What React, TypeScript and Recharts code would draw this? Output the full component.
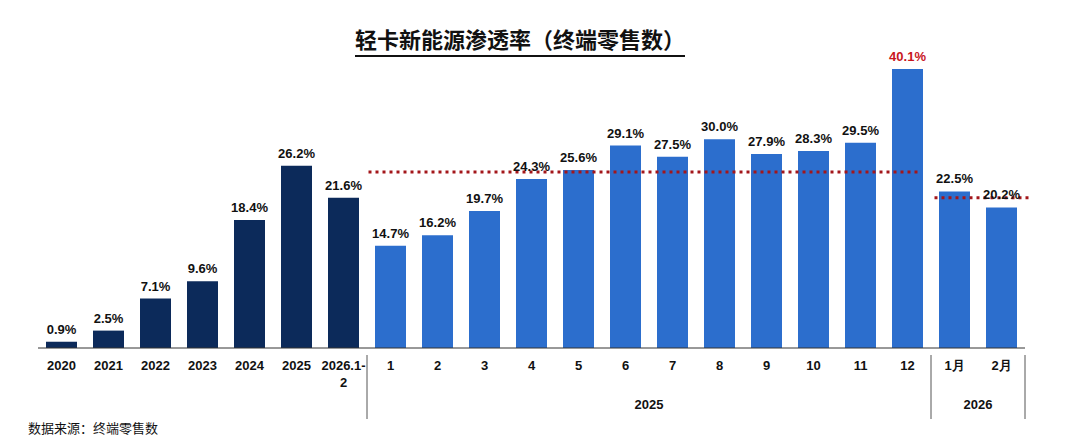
import React from "react";
import { ComposedChart, Bar, XAxis, YAxis, Cell, LabelList, ReferenceLine } from "recharts";

const categories = ["2020", "2021", "2022", "2023", "2024", "2025", "2026.1-2", "1", "2", "3", "4", "5", "6", "7", "8", "9", "10", "11", "12", "1月", "2月"];
const rates = [0.9, 2.5, 7.1, 9.6, 18.4, 26.2, 21.6, 14.7, 16.2, 19.7, 24.3, 25.6, 29.1, 27.5, 30.0, 27.9, 28.3, 29.5, 40.1, 22.5, 20.2];
const avg2025 = 25.3;
const avg2026 = 21.6;

const data = categories.map((c, i) => ({ name: c, rate: rates[i] }));

const NAVY = "#0c2a5a";
const BLUE = "#2c6ecd";
const HALF = 23.5;

const Tick = (props: any) => {
  const { x, y, payload, index } = props;
  const label: string = payload.value;
  const lines = label === "2026.1-2" ? ["2026.1-", "2"] : [label];
  return (
    <g>
      {lines.map((l, k) => (
        <text key={k} x={x} y={y + 14 + k * 17} textAnchor="middle" fontSize={13} fontWeight="bold" fill="#111">
          {l}
        </text>
      ))}
      {(index === 7 || index === 19) && <line x1={x - HALF} x2={x - HALF} y1={y - 1} y2={y + 63} stroke="#555" />}
      {index === 20 && <line x1={x + HALF} x2={x + HALF} y1={y - 1} y2={y + 63} stroke="#555" />}
      {index === 12 && (
        <text x={x + HALF} y={y + 53} textAnchor="middle" fontSize={13} fontWeight="bold" fill="#111">2025</text>
      )}
      {index === 19 && (
        <text x={x + HALF} y={y + 53} textAnchor="middle" fontSize={13} fontWeight="bold" fill="#111">2026</text>
      )}
    </g>
  );
};

const ValueLabel = (props: any) => {
  const { x, y, width, value, index } = props;
  return (
    <text x={x + width / 2} y={y - 8} textAnchor="middle" fontSize={13} fontWeight="bold" fill={index === 18 ? "#c8161d" : "#111"}>
      {value.toFixed(1)}%
    </text>
  );
};

const dotted = (left: number, right: number) => (p: any) => (
  <line x1={p.x1 - left} x2={p.x2 + right} y1={p.y1} y2={p.y2} stroke="#a3161a" strokeWidth={3} strokeDasharray="3 4" />
);

export default function App() {
  return (
    <div style={{ position: "absolute", left: 0, top: 0, width: 1075, height: 439, background: "#fff", fontFamily: "'Liberation Sans', Arial, sans-serif" }}>
      <div style={{ position: "absolute", left: 0, width: 1040, top: 22, textAlign: "center", fontFamily: "'Noto Sans CJK SC', sans-serif", fontSize: 22, fontWeight: "bold", color: "#111" }}>
        <span style={{ borderBottom: "2px solid #111", paddingBottom: 1 }}>轻卡新能源渗透率（终端零售数）</span>
      </div>
      <ComposedChart width={1075} height={439} data={data} margin={{ top: 69, right: 50, bottom: 29, left: 38 }}>
        <XAxis dataKey="name" interval={0} tick={<Tick />} tickLine={false} axisLine={{ stroke: "#333" }} height={62} />
        <YAxis hide domain={[0, 40.1]} />
        <Bar dataKey="rate" barSize={31} isAnimationActive={false}>
          {data.map((d, i) => (
            <Cell key={i} fill={i < 7 ? NAVY : BLUE} />
          ))}
          <LabelList dataKey="rate" content={<ValueLabel />} />
        </Bar>
        <ReferenceLine segment={[{ x: "1", y: avg2025 }, { x: "12", y: avg2025 }]} shape={dotted(22, 12)} />
        <ReferenceLine segment={[{ x: "1月", y: avg2026 }, { x: "2月", y: avg2026 }]} shape={dotted(20, 28)} />
      </ComposedChart>
      <div style={{ position: "absolute", left: 28, top: 418, fontFamily: "'Noto Sans CJK SC', sans-serif", fontSize: 13, color: "#111" }}>
        数据来源：终端零售数
      </div>
    </div>
  );
}
